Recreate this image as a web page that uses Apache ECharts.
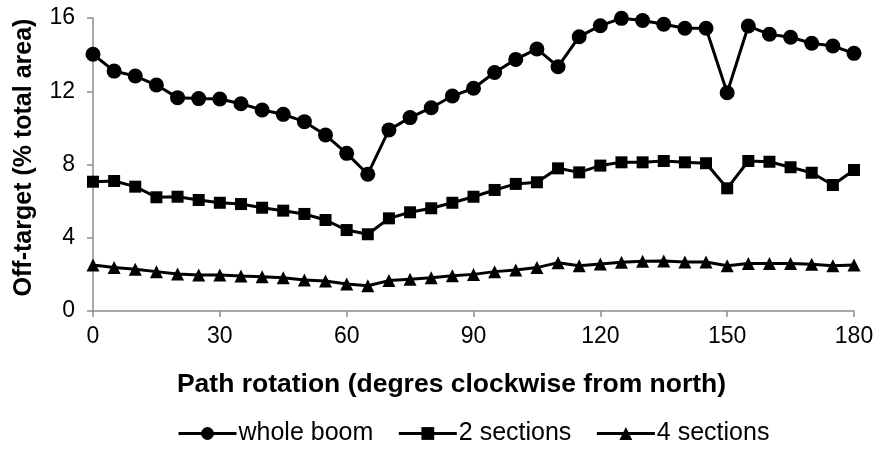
<!DOCTYPE html>
<html>
<head>
<meta charset="utf-8">
<script src="https://cdn.jsdelivr.net/npm/echarts@6/dist/echarts.min.js"></script>
<style>
html,body{margin:0;padding:0;background:#fff;}
#chart{width:877px;height:451px;}
</style>
</head>
<body>
<div id="chart"></div>
<script>
const rotations = [0,5,10,15,20,25,30,35,40,45,50,55,60,65,70,75,80,85,90,95,100,105,110,115,120,125,130,135,140,145,150,155,160,165,170,175,180];
const wholeBoom = [14.02,13.1,12.83,12.34,11.65,11.6,11.58,11.32,10.98,10.74,10.34,9.61,8.61,7.47,9.89,10.56,11.1,11.74,12.16,13.02,13.74,14.31,13.34,14.98,15.58,15.98,15.86,15.66,15.44,15.44,11.92,15.56,15.11,14.95,14.62,14.47,14.07];
const twoSections = [7.06,7.1,6.79,6.21,6.24,6.06,5.91,5.84,5.64,5.48,5.3,4.97,4.42,4.19,5.06,5.39,5.61,5.91,6.24,6.61,6.94,7.03,7.79,7.57,7.94,8.12,8.12,8.19,8.12,8.07,6.7,8.19,8.15,7.85,7.55,6.88,7.7];
const fourSections = [2.51,2.37,2.28,2.15,2.02,1.97,1.97,1.91,1.87,1.82,1.69,1.64,1.47,1.38,1.66,1.73,1.82,1.93,2.0,2.15,2.24,2.37,2.64,2.47,2.57,2.66,2.71,2.73,2.68,2.68,2.47,2.6,2.6,2.6,2.55,2.47,2.51];
const seriesNames = ['whole boom','2 sections','4 sections'];
const xTitle = 'Path rotation (degres clockwise from north)';
const yTitle = 'Off-target (% total area)';

const FONT = '"Liberation Sans", Arial, sans-serif';
const axisGrey = '#8c8c8c';
function pairs(vals){ return rotations.map((r,i)=>[r, vals[i]]); }
function mkSeries(name, vals, symbol, size){
  return {
    name: name, type: 'line', data: pairs(vals),
    symbol: symbol, symbolSize: size, showSymbol: true,
    lineStyle: {color:'#000', width:3},
    itemStyle: {color:'#000'},
    emphasis: {disabled:true},
    animation: false
  };
}
const chart = echarts.init(document.getElementById('chart'));
chart.setOption({
  animation: false,
  backgroundColor: '#fff',
  textStyle: {fontFamily: FONT, color:'#000'},
  grid: {left: 93, right: 23, top: 18, bottom: 140},
  xAxis: {
    type: 'value', min: 0, max: 180, interval: 30,
    name: xTitle, nameLocation: 'middle', nameGap: 60,
    nameTextStyle: {fontFamily: FONT, fontSize: 26.5, fontWeight: 'bold', color:'#000', padding:[0,44,0,0]},
    axisLine: {show:true, lineStyle:{color:axisGrey, width:1.5}},
    axisTick: {show:true, length:6, lineStyle:{color:axisGrey, width:1.5}},
    axisLabel: {fontFamily: FONT, fontSize: 23, color:'#000', margin: 14},
    splitLine: {show:false}
  },
  yAxis: {
    type: 'value', min: 0, max: 16, interval: 4,
    name: yTitle, nameLocation: 'middle', nameGap: 56, nameRotate: 90,
    nameTextStyle: {fontFamily: FONT, fontSize: 25, fontWeight: 'bold', color:'#000', padding:[0,0,0,14]},
    axisLine: {show:true, lineStyle:{color:axisGrey, width:1.5}},
    axisTick: {show:true, length:6, lineStyle:{color:axisGrey, width:1.5}},
    axisLabel: {fontFamily: FONT, fontSize: 23, color:'#000', margin: 18},
    splitLine: {show:false}
  },
  legend: {
    left: 172, bottom: 0, orient: 'horizontal',
    itemWidth: 58, itemHeight: 16, itemGap: 24,
    lineStyle: {width: 3, color: '#000'},
    textStyle: {fontFamily: FONT, fontSize: 25, color:'#000', padding:[0,0,0,-3]},
    data: seriesNames
  },
  series: [
    mkSeries(seriesNames[0], wholeBoom, 'circle', 15),
    mkSeries(seriesNames[1], twoSections, 'rect', 12),
    mkSeries(seriesNames[2], fourSections, 'triangle', 13)
  ]
});
</script>
</body>
</html>
